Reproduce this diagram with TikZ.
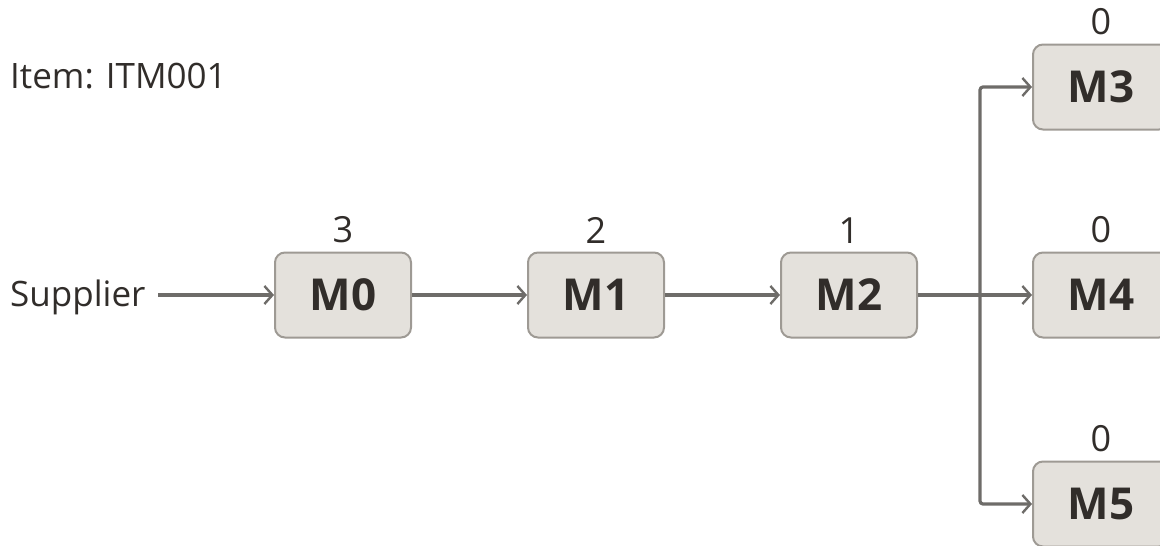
\documentclass[tikz,border=0pt]{standalone}
\usepackage{fontspec}
\setmainfont{Open Sans}
\usetikzlibrary{arrows.meta, positioning}
\definecolor{boxfill}{HTML}{E4E1DC}
\definecolor{boxline}{HTML}{9E9A94}
\definecolor{wire}{HTML}{6E6C69}
\definecolor{ink}{HTML}{312D2A}
\tikzset{
  machine/.style={draw=boxline, fill=boxfill, line width=2pt, rounded corners=10pt,
    minimum width=136pt, minimum height=85pt, inner sep=0pt,
    font=\fontsize{44}{44}\selectfont\bfseries, text=ink},
  count/.style={font=\fontsize{36}{36}\selectfont, text=ink, inner sep=0pt},
  plain/.style={font=\fontsize{35}{35}\selectfont, text=ink, inner sep=0pt},
  flow/.style={draw=wire, line width=3.2pt, -{Straight Barb[length=8pt, width=18pt, line width=2.4pt]}}
}
\begin{document}
\begin{tikzpicture}[x=1pt, y=-1pt]
      \useasboundingbox (0,0) rectangle (1160,546);
      \begin{scope}
      \clip (0,0) rectangle (1160,546);
      \node[plain, anchor=base west] (item) at (10,88) {Item: ITM001};
      \node[plain, anchor=base west] (sup) at (10,306) {Supplier};
      \node[machine] (m0) at (343,295) {M0};
      \node[machine] (m1) at (596,295) {M1};
      \node[machine] (m2) at (849,295) {M2};
      \node[machine] (m3) at (1101,87) {M3};
      \node[machine] (m4) at (1101,295) {M4};
      \node[machine] (m5) at (1101,504) {M5};
      % counts above the machines
      \node[count, above=8pt of m0] (c0) {3};
      \node[count, above=8pt of m1] (c1) {2};
      \node[count, above=8pt of m2] (c2) {1};
      \node[count, above=8pt of m3] (c3) {0};
      \node[count, above=8pt of m4] (c4) {0};
      \node[count, above=8pt of m5] (c5) {0};
      % main line
      \coordinate (s) at (158,295);
      \draw[flow] (s) -- (m0);
      \draw[flow] (m0) -- (m1);
      \draw[flow] (m1) -- (m2);
      \draw[flow] (m2) -- (m4);
      % branches
      \coordinate (fork) at (980,295);
      \draw[flow, rounded corners=3pt] (fork) |- (m3.west);
      \draw[flow, rounded corners=3pt] (fork) |- (m5.west);
      \end{scope}
    \end{tikzpicture}
\end{document}
